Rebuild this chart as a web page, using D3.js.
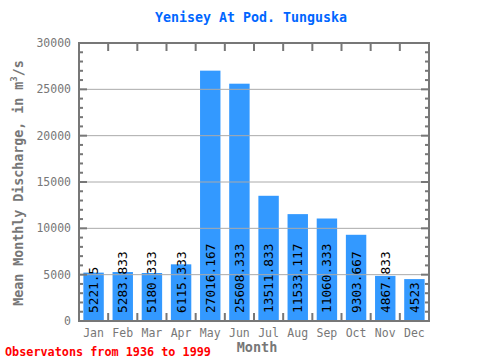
<!DOCTYPE html>
<html><head><meta charset="utf-8">
<script src="https://cdn.jsdelivr.net/npm/d3@7"></script>
<style>body{margin:0;background:#fff}svg{display:block}text{font-family:"DejaVu Sans Mono",monospace}</style>
</head><body>
<script>
const months = ["Jan","Feb","Mar","Apr","May","Jun","Jul","Aug","Sep","Oct","Nov","Dec"];
const discharge = [5221.5,5283.833,5180.333,6115.333,27016.167,25608.333,13511.833,11533.117,11060.333,9303.667,4867.833,4523];
const valueLabels = ["5221.5","5283.833","5180.333","6115.333","27016.167","25608.333","13511.833","11533.117","11060.333","9303.667","4867.833","4523"];
const yTicks = [0,5000,10000,15000,20000,25000,30000];
const titleText = "Yenisey At Pod. Tunguska";
const noteText = "Observatons from 1936 to 1999";

const W=480,H=360, L=79, R=429, T=43, B=321;
const svg=d3.select("body").append("svg").attr("width",W).attr("height",H);
const x=d3.scaleBand().domain(months).range([L,R]).paddingInner(0.3).paddingOuter(0.15);
const xb=d3.scaleLinear().domain([0,12]).range([L,R]);
const y=d3.scaleLinear().domain([0,30000]).range([B,T]);
const axisCol="#777";

// bars
svg.selectAll("rect.bar").data(discharge).enter().append("rect")
 .attr("x",(d,i)=>x(months[i])).attr("width",x.bandwidth())
 .attr("y",d=>y(d)).attr("height",d=>B-y(d)).attr("fill","#3399ff");

// grid
svg.selectAll("line.grid").data(yTicks.filter(v=>v>0&&v<30000)).enter().append("line")
 .attr("x1",L).attr("x2",R).attr("y1",d=>y(d)).attr("y2",d=>y(d))
 .attr("stroke","#aaa").attr("stroke-width",1);

// minor/major y ticks left & right
const minor=d3.range(0,30001,1000);
const gt=svg.append("g").attr("stroke",axisCol).attr("stroke-width",2);
minor.forEach(v=>{
  const len = v%5000===0?8:4;
  gt.append("line").attr("x1",L).attr("x2",L+len).attr("y1",y(v)).attr("y2",y(v));
  gt.append("line").attr("x1",R).attr("x2",R-len).attr("y1",y(v)).attr("y2",y(v));
});
d3.range(1,12).forEach(k=>{
  gt.append("line").attr("x1",xb(k)).attr("x2",xb(k)).attr("y1",T).attr("y2",T+8);
  gt.append("line").attr("x1",xb(k)).attr("x2",xb(k)).attr("y1",B).attr("y2",B-8);
});
// frame
svg.append("rect").attr("x",L).attr("y",T).attr("width",R-L).attr("height",B-T)
 .attr("fill","none").attr("stroke",axisCol).attr("stroke-width",2);

// y tick labels
svg.selectAll("text.yt").data(yTicks).enter().append("text")
 .attr("x",71).attr("y",d=>y(d)).attr("dy","0.35em").attr("text-anchor","end")
 .attr("font-size",11.5).attr("fill",axisCol).text(d=>d);

// x tick labels
svg.selectAll("text.xt").data(months).enter().append("text")
 .attr("x",d=>x(d)+x.bandwidth()/2).attr("y",337).attr("text-anchor","middle")
 .attr("font-size",11.5).attr("fill",axisCol).text(d=>d);

// value labels
svg.selectAll("text.vl").data(valueLabels).enter().append("text")
 .attr("transform",(d,i)=>`translate(${x(months[i])+x.bandwidth()/2},313) rotate(-90)`)
 .attr("dy","0.35em").attr("text-anchor","start").attr("font-size",12.8).attr("fill","#000").text(d=>d);

// title
svg.append("text").attr("x",251).attr("y",22).attr("text-anchor","middle")
 .attr("font-size",13.3).attr("font-weight","bold").attr("fill","#0066ff").text(titleText);

// x label
svg.append("text").attr("x",257).attr("y",352).attr("text-anchor","middle")
 .attr("font-size",13.5).attr("font-weight","bold").attr("fill",axisCol).text("Month");

// y label
const yl=svg.append("text").attr("transform","translate(23,183) rotate(-90)").attr("text-anchor","middle")
 .attr("font-size",13.3).attr("font-weight","bold").attr("fill",axisCol);
yl.append("tspan").text("Mean Monthly Discharge, in  m");
yl.append("tspan").attr("font-size",9).attr("dy",-6).text("3");
yl.append("tspan").attr("dy",6).text("/s");

// note
svg.append("text").attr("x",5).attr("y",356).attr("font-size",11.8).attr("font-weight","bold")
 .attr("fill","#ff0000").text(noteText);
</script>
</body></html>
